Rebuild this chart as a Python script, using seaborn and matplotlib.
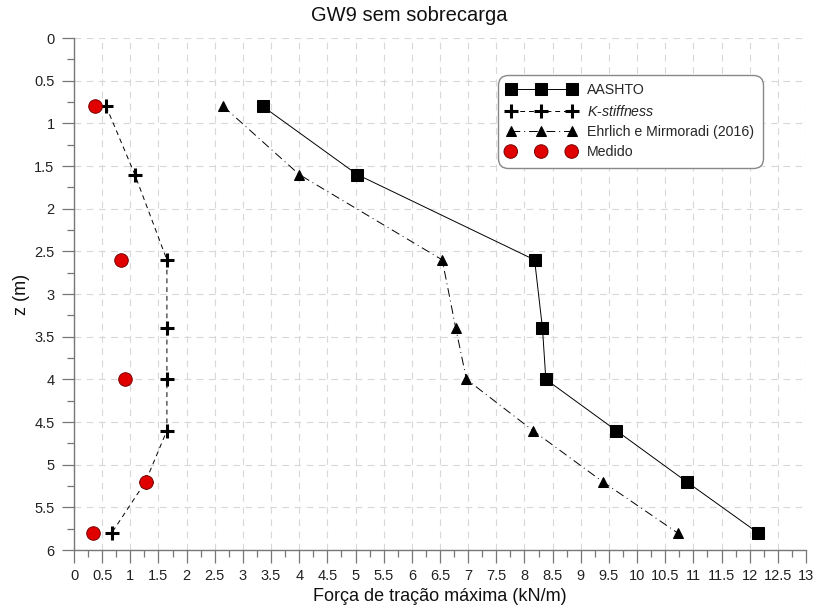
import matplotlib
matplotlib.use("Agg")
import matplotlib.pyplot as plt
from matplotlib.ticker import MultipleLocator, FuncFormatter
import seaborn as sns
import pandas as pd

# Depths of the reinforcement layers (m)
z_layers = [0.8, 1.6, 2.6, 3.4, 4.0, 4.6, 5.2, 5.8]
# Maximum tensile force per method (kN/m)
aashto = [3.35, 5.03, 8.18, 8.32, 8.38, 9.63, 10.88, 12.15]
ehrlich = [2.65, 4.00, 6.54, 6.78, 6.97, 8.15, 9.39, 10.72]
k_stiffness = [0.57, 1.08, 1.65, 1.65, 1.65, 1.65, 1.27, 0.67]
# Measured values
z_medido = [0.8, 2.6, 4.0, 5.2, 5.8]
medido = [0.37, 0.83, 0.91, 1.28, 0.34]

labels = ["AASHTO", "$\\it{K}$-$\\it{stiffness}$", "Ehrlich e Mirmoradi (2016)", "Medido"]

sns.set_style("white")
plt.rcParams["font.family"] = ["Liberation Sans", "DejaVu Sans"]
plt.rcParams["mathtext.fontset"] = "custom"
plt.rcParams["mathtext.it"] = "Liberation Sans:italic"
plt.rcParams["mathtext.rm"] = "Liberation Sans"

fig = plt.figure(figsize=(8.16, 6.12), dpi=100)
ax = fig.add_axes([0.0907, 0.1013, 0.897, 0.8366])

df = pd.DataFrame({"z": z_layers, "aashto": aashto, "ehrlich": ehrlich, "k": k_stiffness})
dfm = pd.DataFrame({"z": z_medido, "medido": medido})

line_kw = dict(sort=False, estimator=None, color="black", linewidth=0.7, ax=ax,
               markeredgecolor="black", markerfacecolor="black")

sns.lineplot(data=df, x="aashto", y="z", marker="s", markersize=8, label=labels[0], **line_kw)
sns.lineplot(data=df, x="k", y="z", marker="+", markersize=10, markeredgewidth=2.2,
             label=labels[1], **line_kw)
ax.lines[-1].set_dashes((5, 4))
sns.lineplot(data=df, x="ehrlich", y="z", marker="^", markersize=7.5, label=labels[2], **line_kw)
ax.lines[-1].set_dashes((9, 4, 1, 4))
sns.scatterplot(data=dfm, x="medido", y="z", marker="o", s=95, color="#e00000",
                edgecolor="#7a0000", linewidth=0.7, label=labels[3], ax=ax, zorder=5)

ax.set_xlim(0, 13)
ax.set_ylim(6, 0)

fmt = FuncFormatter(lambda v, p: f"{v:g}")
ax.xaxis.set_major_locator(MultipleLocator(0.5))
ax.xaxis.set_minor_locator(MultipleLocator(0.25))
ax.yaxis.set_major_locator(MultipleLocator(0.5))
ax.yaxis.set_minor_locator(MultipleLocator(0.25))
ax.xaxis.set_major_formatter(fmt)
ax.yaxis.set_major_formatter(fmt)

ax.tick_params(axis="both", which="major", direction="out", length=9, width=0.9,
               color="#777777", labelsize=10.5, labelcolor="#222222", pad=5,
               bottom=True, left=True)
ax.tick_params(axis="both", which="minor", direction="out", length=5, width=0.9,
               color="#777777", bottom=True, left=True)

ax.grid(True, which="major", color="#d8d8d8", linestyle=(0, (6, 5)), linewidth=0.8)
for side in ("top", "right"):
    ax.spines[side].set_visible(False)
for side in ("left", "bottom"):
    ax.spines[side].set_color("#777777")
    ax.spines[side].set_linewidth(1.0)

ax.set_xlabel("Força de tração máxima (kN/m)", fontsize=13, labelpad=3, color="#111111")
ax.set_ylabel("z (m)", fontsize=13, labelpad=3, color="#111111")
fig.suptitle("GW9 sem sobrecarga", fontsize=14.5, x=0.502, y=0.99, color="#111111")

handles, lbls = ax.get_legend_handles_labels()
order = [lbls.index(l) for l in labels]
leg = ax.legend([handles[i] for i in order], [lbls[i] for i in order],
                loc="upper right", bbox_to_anchor=(0.941, 0.928), borderaxespad=0,
                numpoints=3, scatterpoints=3, scatteryoffsets=[0.5], handlelength=4.9,
                fontsize=10.2, frameon=True, fancybox=True, edgecolor="#888888",
                framealpha=1, labelspacing=0.45, handletextpad=0.8, borderpad=0.6)
leg.get_frame().set_linewidth(1.0)
leg.get_frame().set_boxstyle("round,pad=0,rounding_size=0.7")

fig.savefig("out.png", dpi=100)
